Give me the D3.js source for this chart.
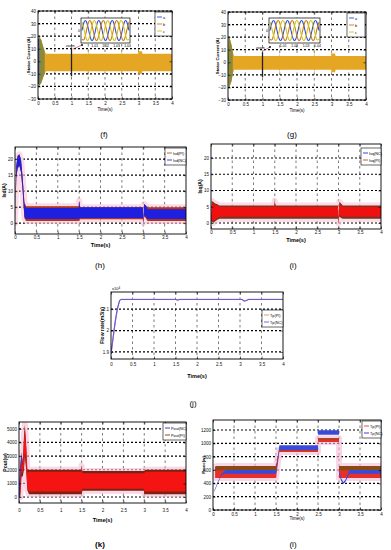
<!DOCTYPE html>
<html><head><meta charset="utf-8">
<script src="https://cdn.jsdelivr.net/npm/d3@7"></script>
<style>
body{margin:0;background:#fff}
svg{display:block}
text{font-family:"Liberation Sans",Arial,sans-serif}
</style>
</head><body><div id="fig"></div>
<script>
// shared time axis
const timeTicks = [0, 0.5, 1, 1.5, 2, 2.5, 3, 3.5, 4];

// (f) stator current, envelope of the 3-phase currents
const fTime  = [0, 0.02, 0.05, 0.1, 0.15, 0.2, 0.24, 1.49, 1.5, 1.51, 2.49, 2.5, 2.51, 2.99, 3.0, 3.02, 3.1, 3.12, 4];
const fUpper = [0, 20, 19, 17, 12, 8, 6, 6, 10, 6, 6, 11, 6, 6, 10, 8, 8, 6, 6];
const fLower = [0, -20, -19, -17, -13, -10, -8, -8, -13, -8, -8, -12, -8, -8, -12, -10, -10, -8, -8];
// (g) stator current
const gTime  = [0, 0.02, 0.05, 0.1, 0.14, 0.18, 1.49, 1.5, 1.51, 2.49, 2.5, 2.51, 2.99, 3.0, 3.02, 3.1, 3.12, 4];
const gUpper = [0, 20, 19, 14, 8, 5, 5, 8, 5, 5, 13, 5, 5, 10, 7, 7, 5, 5];
const gLower = [0, -20, -19, -15, -9, -6, -6, -10, -6, -6, -10, -6, -6, -10, -8, -8, -6, -6];
// zoomed 3-phase waveforms (per-unit samples, 60 deg apart)
const phaseA = [0, .87, .87, 0, -.87, -.87, 0, .87, .87, 0, -.87, -.87, 0, .87, .87, 0, -.87, -.87, 0, .87, .87, 0];
const phaseB = [-.87, -.87, 0, .87, .87, 0, -.87, -.87, 0, .87, .87, 0, -.87, -.87, 0, .87, .87, 0, -.87, -.87, 0, .87];
const phaseC = [.87, 0, -.87, -.87, 0, .87, .87, 0, -.87, -.87, 0, .87, .87, 0, -.87, -.87, 0, .87, .87, 0, -.87, -.87];
const insetTicks = ["1.01", "1.02", "1.03", "1.04"];

// (h) Isd
const hTime    = [0, 0.03, 0.06, 0.1, 0.14, 0.18, 0.22, 0.26, 1.49, 1.5, 1.52, 2.99, 3.0, 3.02, 3.06, 3.1, 4];
const hNCUpper = [0, 18, 21, 21.5, 20, 14, 6, 4.7, 4.7, 7, 5, 5, 0, 6, 5.5, 4.3, 4.3];
const hNCLower = [0, 14, 17, 18, 16, 10, 2, 1.3, 1.3, 1.3, 1.6, 1.6, 0, 2.5, 2, 1.3, 1.3];
const hPIUpper = [0, 18, 21, 21.5, 20, 14, 6.5, 5.3, 5.3, 7, 5, 5, 0.5, 6, 5.5, 5, 5];
const hPILower = [0, 14, 17, 18, 16, 10, 1.5, 0.7, 0.7, 0.7, 1.2, 1.2, 0, 2, 1.5, 0.7, 0.7];

// (i) Isq
const iTime    = [0, 0.02, 0.05, 0.1, 0.15, 0.2, 1.49, 1.5, 1.52, 2.99, 3.0, 3.02, 3.06, 3.1, 4];
const iOuterUp = [0, 6.8, 6.5, 6, 5.8, 5.4, 5.4, 6.8, 5.4, 5.4, 0, 6.5, 6, 5.4, 5.4];
const iOuterLo = [0, 0.5, 0, 0.5, 1, 1.3, 1.3, 1.3, 1.3, 1.3, 0, 2, 1.5, 1.3, 1.3];
const iPIUpper = [0, 6.5, 6, 5.5, 5.5, 5, 5, 6.5, 5, 5, 0.5, 6, 5.5, 5, 5];
const iPILower = [0, 1, 0.5, 1, 1.5, 1.9, 1.9, 1.9, 1.9, 1.9, 0, 2.5, 2, 1.9, 1.9];

// (j) flow rate (x1e4)
const jTime = [0, 0.05, 0.1, 0.15, 0.2, 0.23, 1.5, 1.55, 1.6, 3.05, 3.1, 3.15, 3.2, 4];
const jPI   = [1.89, 1.965, 2.04, 2.1, 2.14, 2.146, 2.146, 2.143, 2.146, 2.146, 2.138, 2.141, 2.146, 2.146];
const jNC   = [1.89, 1.97, 2.045, 2.105, 2.14, 2.145, 2.145, 2.142, 2.145, 2.145, 2.137, 2.14, 2.145, 2.145];

// (k) Pout
const kTime    = [0, 0.03, 0.06, 0.09, 0.12, 0.14, 0.17, 0.2, 0.24, 0.28, 1.49, 1.5, 1.52, 2.99, 3.0, 3.02, 3.1, 4];
const kOuterUp = [0, 2000, 3300, 2500, 4500, 5300, 4000, 2000, 2000, 2000, 2000, 2300, 1900, 1900, 1900, 2000, 2000, 2000];
const kOuterLo = [0, 0, 1500, 1500, 2000, 3000, 2000, 500, 200, 200, 200, 200, 450, 450, 200, 200, 200, 200];
const kRedUp   = [0, 1800, 3000, 2300, 4200, 5000, 3700, 1800, 1850, 1850, 1850, 2100, 1750, 1750, 1750, 1850, 1850, 1850];
const kRedLo   = [0, 200, 1800, 1800, 2300, 3300, 2300, 700, 400, 400, 400, 400, 600, 600, 400, 400, 400, 400];
const kNCTime  = [0, 0.03, 0.06, 0.08];
const kNC      = [0, 2000, 3000, 2600];

// (l) Pmec
const lPITime  = [0.05, 0.1, 1.5, 1.58, 2.5, 2.5, 3.0, 3.0, 3.08, 3.2, 4];
const lPIUpper = [650, 660, 660, 905, 905, 1075, 1075, 660, 660, 660, 660];
const lPILower = [480, 480, 480, 870, 870, 1020, 1020, 480, 480, 480, 480];
const lNCTime  = [0.03, 0.1, 0.15, 0.2, 0.3, 1.5, 1.58, 2.5, 2.5, 3.0, 3.0, 3.05, 3.1, 3.15, 3.25, 4];
const lNCUpper = [290, 400, 470, 540, 600, 600, 970, 970, 1195, 1195, 600, 480, 420, 450, 600, 600];
const lNCLower = [270, 380, 450, 520, 545, 545, 900, 900, 1130, 1130, 545, 440, 390, 420, 545, 545];

const svg = d3.select("#fig").append("svg").attr("width", 391).attr("height", 550);
let clipN = 0;

function panel(o) {
	const g = svg.append("g");
	const x = d3.scaleLinear().domain([0, 4]).range([o.x0, o.x1]);
	const y = d3.scaleLinear().domain(o.yDomain).range([o.y1, o.y0]);

	// grid
	g.selectAll(".vg").data(timeTicks.slice(1, -1)).join("line")
		.attr("x1", d => x(d)).attr("x2", d => x(d)).attr("y1", o.y0).attr("y2", o.y1)
		.attr("stroke", "#222").attr("stroke-width", 0.6).attr("stroke-dasharray", "2.5,3");
	g.selectAll(".hg").data(o.yTicks).join("line")
		.attr("x1", o.x0).attr("x2", o.x1).attr("y1", d => y(d)).attr("y2", d => y(d))
		.attr("stroke", "#000").attr("stroke-width", 1.2).attr("stroke-dasharray", "2,2");

	const id = "clip" + (clipN++);
	g.append("clipPath").attr("id", id).append("rect")
		.attr("x", o.x0).attr("y", o.y0).attr("width", o.x1 - o.x0).attr("height", o.y1 - o.y0);
	const plot = g.append("g").attr("clip-path", `url(#${id})`);
	o.draw(plot, x, y);

	// frame + inward ticks
	const fs = o.tickFont || 4.5;
	const bx = g.append("g").attr("transform", `translate(0,${o.y1})`)
		.call(d3.axisBottom(x).tickValues(timeTicks).tickSize(-2.5).tickPadding(o.tickPad || 2.5).tickFormat(d3.format("")));
	const lx = g.append("g").attr("transform", `translate(${o.x0},0)`)
		.call(d3.axisLeft(y).tickValues(o.yTicks).tickSize(-2.5).tickPadding(2).tickFormat(o.fmt || d3.format("")));
	g.append("g").attr("transform", `translate(0,${o.y0})`)
		.call(d3.axisTop(x).tickValues(timeTicks).tickSize(-2.5).tickFormat(""));
	g.append("g").attr("transform", `translate(${o.x1},0)`)
		.call(d3.axisRight(y).tickValues(o.yTicks).tickSize(-2.5).tickFormat(""));
	g.selectAll(".domain").remove();
	g.selectAll(".tick line").attr("stroke", "#000").attr("stroke-width", 0.6);
	g.selectAll(".tick text").attr("font-size", fs).attr("fill", "#111");
	g.append("rect").attr("x", o.x0).attr("y", o.y0).attr("width", o.x1 - o.x0).attr("height", o.y1 - o.y0)
		.attr("fill", "none").attr("stroke", "#000").attr("stroke-width", 0.9);

	// labels
	g.append("text").attr("x", (o.x0 + o.x1) / 2).attr("y", o.y1 + o.timeDy)
		.attr("text-anchor", "middle").attr("font-size", o.timeFont || 5.5).attr("font-weight", o.timeBold ? "bold" : null)
		.text("Time(s)");
	g.append("text").attr("transform", `translate(${o.ylx},${(o.y0 + o.y1) / 2}) rotate(-90)`)
		.attr("text-anchor", "middle").attr("font-size", o.ylFont || 5).attr("font-weight", "bold").text(o.ylabel);
	svg.append("text").attr("x", o.tagX).attr("y", o.tagY).attr("text-anchor", "middle")
		.attr("font-family", "Liberation Serif, serif").attr("font-size", 8).attr("font-weight", o.tagBold ? "bold" : null)
		.text(o.tag);
	return { g, x, y };
}

function band(plot, x, y, ts, hi, lo, fill, halo) {
	const data = ts.map((t, i) => ({ t, hi: hi[i], lo: lo[i] }));
	const area = d3.area().x(d => x(d.t)).y0(d => y(d.lo)).y1(d => y(d.hi));
	if (halo) plot.append("path").datum(data).attr("d", area).attr("fill", halo)
		.attr("stroke", halo).attr("stroke-width", 6).attr("stroke-linejoin", "round").attr("opacity", 0.6);
	plot.append("path").datum(data).attr("d", area).attr("fill", fill);
}

function line(plot, x, y, ts, vs, color, w) {
	plot.append("path").datum(ts.map((t, i) => [t, vs[i]]))
		.attr("d", d3.line().x(d => x(d[0])).y(d => y(d[1])))
		.attr("fill", "none").attr("stroke", color).attr("stroke-width", w || 1);
}

function legend(g, x0, y0, w, items) {
	const h = items.length * 7 + 3;
	g.append("rect").attr("x", x0).attr("y", y0).attr("width", w).attr("height", h)
		.attr("fill", "#fff").attr("stroke", "#000").attr("stroke-width", 0.6);
	items.forEach((it, i) => {
		const yy = y0 + 5 + i * 7;
		g.append("line").attr("x1", x0 + 2).attr("x2", x0 + 7).attr("y1", yy).attr("y2", yy)
			.attr("stroke", it.color).attr("stroke-width", 0.9);
		g.append("text").attr("x", x0 + 8).attr("y", yy + 1.5).attr("font-size", 3.8).text(it.label);
	});
}

const phaseColors = ["#2c4bd6", "#c77a12", "#d6c21c"];

function inset(g, x0, y0, w, h, zoomX, zoomY, labelX) {
	g.append("rect").attr("x", x0).attr("y", y0).attr("width", w).attr("height", h)
		.attr("fill", "#fff").attr("stroke", "#000").attr("stroke-width", 0.7);
	const sx = d3.scaleLinear().domain([0, phaseA.length - 1]).range([x0 + 1, x0 + w - 1]);
	const sy = d3.scaleLinear().domain([-1.15, 1.15]).range([y0 + h - 1, y0 + 1]);
	[phaseA, phaseB, phaseC].forEach((p, k) => {
		g.append("path").datum(p)
			.attr("d", d3.line().x((d, i) => sx(i)).y(d => sy(d)).curve(d3.curveNatural))
			.attr("fill", "none").attr("stroke", phaseColors[k]).attr("stroke-width", 1.1);
	});
	const tx = d3.scalePoint().domain(insetTicks).range([x0 + w * 0.28, x0 + w * 0.95]);
	g.selectAll(null).data(insetTicks).join("text")
		.attr("x", d => tx(d)).attr("y", y0 + h + 4).attr("text-anchor", "middle")
		.attr("font-size", 3.5).text(d => d);
	g.append("text").attr("x", x0 - 1).attr("y", y0 + h / 2 + 1).attr("text-anchor", "end").attr("font-size", 3.5).text("0");
	g.append("line").attr("x1", labelX + 7).attr("y1", zoomY + 4).attr("x2", zoomX).attr("y2", zoomY)
		.attr("stroke", "#c02020").attr("stroke-width", 0.6);
	g.append("circle").attr("cx", zoomX).attr("cy", zoomY).attr("r", 0.9).attr("fill", "#000");
	g.append("text").attr("x", labelX).attr("y", zoomY + 2).attr("font-size", 3.5).text("zoom");
}

// ---------- (f)
const pf = panel({
	x0: 38, x1: 172, y0: 11, y1: 99, yDomain: [-30, 40], yTicks: [-30, -20, -10, 0, 10, 20, 30, 40],
	timeDy: 12, timeFont: 4.5, ylx: 30, ylFont: 4.3, ylabel: "Stator Current (A)", tag: "(f)", tagX: 104, tagY: 137,
	draw: (p, x, y) => {
		band(p, x, y, fTime, fUpper, fLower, "#e5a623");
		band(p, x, y, fTime.slice(0, 6), fUpper.slice(0, 6), fLower.slice(0, 6), "#8c8a3a");
		line(p, x, y, [0.02, 0.02], [18, -18], "#3a4bb0", 1.2);
		line(p, x, y, [1, 1], [11, -12], "#222", 1.3);
	}
});
legend(pf.g, 155, 12, 17, [{ label: "a", color: phaseColors[0] }, { label: "b", color: phaseColors[1] }, { label: "c", color: phaseColors[2] }]);
inset(pf.g, 81, 18, 49, 25, 82, 45, 66);

// ---------- (g)
const pg = panel({
	x0: 228, x1: 366, y0: 12, y1: 100, yDomain: [-30, 40], yTicks: [-30, -20, -10, 0, 10, 20, 30, 40],
	timeDy: 12, timeFont: 4.5, ylx: 219, ylFont: 4.3, ylabel: "Stator Current (A)", tag: "(g)", tagX: 292, tagY: 137,
	draw: (p, x, y) => {
		band(p, x, y, gTime, gUpper, gLower, "#e5a623");
		band(p, x, y, gTime.slice(0, 5), gUpper.slice(0, 5), gLower.slice(0, 5), "#8c8a3a");
		line(p, x, y, [1, 1], [8, -12], "#222", 1.3);
	}
});
legend(pg.g, 347, 13, 18, [{ label: "a", color: phaseColors[0] }, { label: "b", color: phaseColors[1] }, { label: "c", color: phaseColors[2] }]);
inset(pg.g, 269, 18, 51, 25, 270, 47, 256);

// ---------- (h)
const ph = panel({
	x0: 15, x1: 186, y0: 147, y1: 234, yDomain: [-3.4, 23.8], yTicks: [0, 5, 10, 15, 20],
	timeDy: 13, timeBold: true, tickPad: 2, ylx: 6, ylabel: "Isd(A)", tag: "(h)", tagX: 100, tagY: 268,
	draw: (p, x, y) => {
		band(p, x, y, hTime, hPIUpper, hPILower, "#b3321a", "#f7c4d6");
		band(p, x, y, hTime, hNCUpper, hNCLower, "#1f1fe0");
	}
});
legend(ph.g, 165, 148, 21, [{ label: "Isd(PI)", color: "#c0502a" }, { label: "Isd(NC)", color: "#2a2ad0" }]);

// ---------- (i)
const pi = panel({
	x0: 211, x1: 381, y0: 144, y1: 229, yDomain: [-1.85, 24.3], yTicks: [0, 5, 10, 15, 20],
	timeDy: 13, timeBold: true, tickPad: 2, ylx: 202, ylabel: "Isq(A)", tag: "(i)", tagX: 293, tagY: 268,
	draw: (p, x, y) => {
		band(p, x, y, iTime, iOuterUp, iOuterLo, "#6e3a22", "#f7c4d6");
		band(p, x, y, iTime, iPIUpper, iPILower, "#f01010");
	}
});
legend(pi.g, 361, 148, 20, [{ label: "Isq(NC)", color: "#2a2ad0" }, { label: "Isq(PI)", color: "#c0502a" }]);

// ---------- (j)
const pj = panel({
	x0: 111, x1: 283, y0: 292, y1: 359, yDomain: [1.867, 2.18], yTicks: [1.9, 2, 2.1],
	timeDy: 19, timeBold: true, tickPad: 4, ylx: 104, ylabel: "Flow rate(m3/s)", tag: "(j)", tagX: 193, tagY: 406,
	draw: (p, x, y) => {
		line(p, x, y, jTime, jPI, "#e08a50", 1);
		line(p, x, y, jTime, jNC, "#6a5ae0", 1.2);
	}
});
pj.g.append("text").attr("x", 112).attr("y", 290).attr("font-size", 4).text("x10").append("tspan")
	.attr("dy", -1.5).attr("font-size", 3).text("4");
legend(pj.g, 262, 310, 21, [{ label: "Tp(PI)", color: "#e08a50" }, { label: "Tp(NC)", color: "#6a5ae0" }]);

// ---------- (k)
const pk = panel({
	x0: 19, x1: 186, y0: 422, y1: 503, yDomain: [-440, 5500], yTicks: [0, 1000, 2000, 3000, 4000, 5000],
	timeDy: 19, timeBold: true, tickPad: 6, ylx: 7, ylabel: "Pout(w)", tag: "(k)", tagX: 100, tagY: 547, tagBold: true,
	draw: (p, x, y) => {
		band(p, x, y, kTime, kOuterUp, kOuterLo, "#7a2410", "#f7bcd8");
		band(p, x, y, kTime, kRedUp, kRedLo, "#f41414");
		line(p, x, y, kNCTime, kNC, "#3a3ad0", 1);
	}
});
legend(pk.g, 163, 423, 23, [{ label: "Pout(NC)", color: "#2a2ad0" }, { label: "Pout(PI)", color: "#8a3010" }]);

// ---------- (l)
const pl = panel({
	x0: 213, x1: 381, y0: 420, y1: 510, yDomain: [0, 1350], yTicks: [0, 200, 400, 600, 800, 1000, 1200],
	timeDy: 10, timeFont: 4.5, tickPad: 2.5, ylx: 205, ylFont: 4.3, ylabel: "Pmec(w)", tag: "(l)", tagX: 293, tagY: 547,
	draw: (p, x, y) => {
		band(p, x, y, lPITime, lPIUpper, lPILower, "#e8302a", "#f7bcd8");
		band(p, x, y, lPITime, lPIUpper, lPIUpper.map((v, i) => v - (lPIUpper[i] - lPILower[i]) * 0.35), "#8a4a18");
		band(p, x, y, lNCTime, lNCUpper, lNCLower, "#3a4ad8");
	}
});
legend(pl.g, 362, 421, 19, [{ label: "Tp(PI)", color: "#e0402a" }, { label: "Tp(NC)", color: "#2a2ad0" }]);
</script>
</body></html>
